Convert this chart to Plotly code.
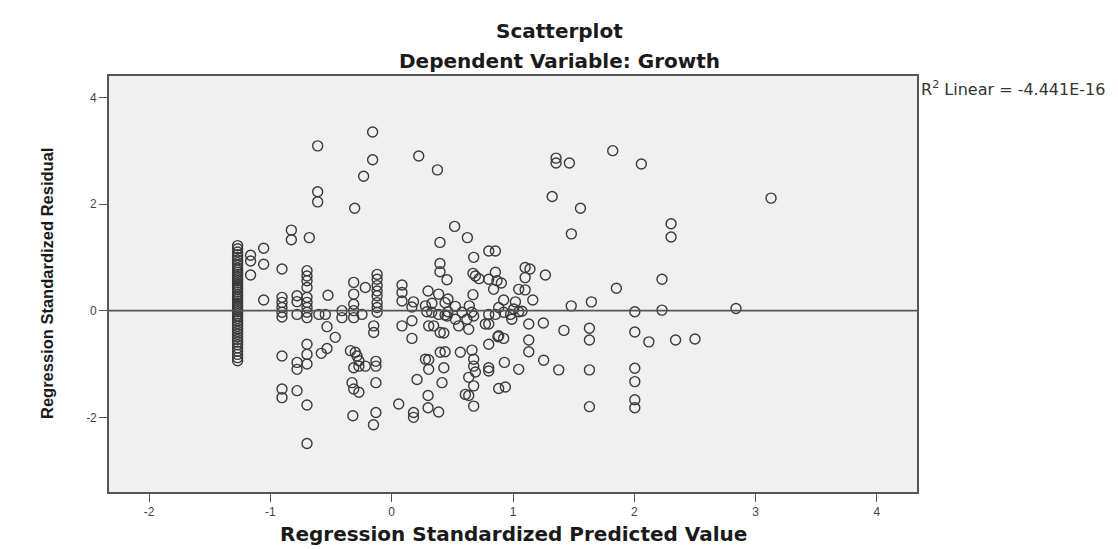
import plotly.graph_objects as go

# Standardized predicted values and residuals (regression on Growth)
col_pred = [-1.27] * 47
col_resid = [1.22, 1.16, 1.10, 1.05, 1.00, 0.95, 0.90, 0.85, 0.80, 0.76, 0.72, 0.68,
             0.64, 0.60, 0.56, 0.52, 0.48, 0.44, 0.40, 0.35, 0.30, 0.26, 0.22, 0.18,
             0.14, 0.10, 0.06, 0.02, -0.02, -0.06, -0.10, -0.14, -0.19, -0.24, -0.29,
             -0.34, -0.39, -0.44, -0.49, -0.54, -0.59, -0.64, -0.70, -0.76, -0.82,
             -0.88, -0.94]

upper_pts = [
    (-0.157, 3.35), (-0.61, 3.09), (-0.157, 2.83), (0.223, 2.90), (0.377, 2.64),
    (-0.231, 2.52), (-0.61, 2.23), (-0.61, 2.04), (-0.305, 1.92), (0.519, 1.58),
    (0.624, 1.37), (0.398, 1.28), (-0.827, 1.51), (-0.827, 1.33), (-0.679, 1.37),
    (-1.055, 1.17), (-1.055, 0.87), (-0.904, 0.78), (-1.163, 1.04), (-1.163, 0.93),
    (-1.163, 0.67), (0.676, 1.00), (0.80, 1.12), (0.855, 1.12), (0.398, 0.885),
    (0.398, 0.73), (1.355, 2.86), (1.355, 2.77), (1.465, 2.77), (1.822, 3.00),
    (2.058, 2.75), (1.323, 2.14), (1.556, 1.92), (1.481, 1.44), (3.127, 2.11),
    (2.303, 1.63), (2.303, 1.38), (1.10, 0.81), (1.14, 0.78), (1.10, 0.62),
    (1.267, 0.67), (2.228, 0.59),
]

middle_pts = [
    (0.456, 0.58), (0.67, 0.70), (0.69, 0.65), (0.72, 0.60), (0.80, 0.59),
    (0.855, 0.72), (0.868, 0.56), (0.904, 0.52), (0.84, 0.40), (1.047, 0.40),
    (1.10, 0.39), (1.163, 0.20), (0.923, 0.20), (1.02, 0.165), (1.006, 0.03),
    (1.074, -0.01), (0.882, 0.06), (0.67, 0.30), (0.64, 0.09), (0.66, -0.03),
    (0.676, -0.10), (0.464, 0.22), (0.525, 0.08), (0.464, -0.02), (0.456, -0.10),
    (0.387, 0.31), (0.30, 0.37), (0.332, 0.14), (0.278, 0.09), (0.085, 0.48),
    (0.085, 0.34), (0.085, 0.18), (0.18, 0.165), (0.167, 0.07), (0.33, -0.03),
    (0.387, -0.07), (0.44, -0.08), (0.44, 0.15), (1.48, 0.09), (1.646, 0.165),
    (1.852, 0.42), (2.004, -0.02), (2.228, 0.01), (2.838, 0.04),
    (-0.12, 0.68), (-0.12, 0.59), (-0.12, 0.47), (-0.12, 0.37), (-0.12, 0.28),
    (-0.12, 0.15), (-0.12, 0.06), (-0.12, -0.03), (-0.148, -0.285), (-0.148, -0.41),
    (0.29, -0.02), (0.525, -0.16), (0.62, -0.16), (0.855, -0.07), (0.923, -0.03),
    (0.98, -0.07), (1.047, -0.02), (0.58, -0.03), (0.80, -0.07),
]

lower_pts = [
    (0.085, -0.285), (0.167, -0.19), (0.305, -0.285), (0.346, -0.285), (0.40, -0.41),
    (0.552, -0.285), (0.635, -0.35), (0.772, -0.25), (0.80, -0.25), (0.882, -0.47),
    (0.99, -0.16), (1.13, -0.25), (1.25, -0.23), (1.42, -0.37), (1.63, -0.33),
    (2.004, -0.40), (0.167, -0.52), (0.43, -0.42), (0.80, -0.63), (0.876, -0.49),
    (0.923, -0.52), (1.13, -0.55), (1.13, -0.77), (1.63, -0.55), (1.63, -1.11),
    (1.63, -1.80), (2.004, -1.08), (2.004, -1.33), (2.004, -1.67), (2.004, -1.82),
    (2.12, -0.585), (2.34, -0.55), (2.50, -0.53), (0.278, -0.91), (0.305, -0.92),
    (0.40, -0.78), (0.44, -0.77), (0.305, -1.10), (0.43, -1.07), (0.566, -0.78),
    (0.662, -0.74), (0.676, -0.91), (0.676, -1.04), (0.69, -1.15), (0.635, -1.25),
    (0.676, -1.41), (0.607, -1.57), (0.635, -1.59), (0.676, -1.79), (0.80, -1.07),
    (0.80, -1.13), (0.929, -0.97), (1.047, -1.10), (1.253, -0.93), (1.377, -1.11),
    (0.882, -1.46), (0.937, -1.43), (0.209, -1.29), (0.415, -1.35), (0.30, -1.59),
    (0.058, -1.75), (0.30, -1.82), (0.387, -1.90), (0.18, -1.91), (0.18, -2.00),
    (-0.13, -0.95), (-0.13, -1.04), (-0.13, -1.35), (-0.13, -1.91), (-0.15, -2.14),
]

left_pts = [
    (-1.055, 0.20), (-0.904, 0.25), (-0.904, 0.155), (-0.904, 0.06), (-0.904, -0.03),
    (-0.904, -0.12), (-0.78, 0.28), (-0.78, 0.17), (-0.78, -0.07),
    (-0.698, 0.75), (-0.698, 0.65), (-0.698, 0.56), (-0.698, 0.435), (-0.698, 0.25),
    (-0.698, 0.155), (-0.698, 0.06), (-0.698, -0.03), (-0.698, -0.13),
    (-0.60, -0.07), (-0.547, -0.07), (-0.533, -0.30), (-0.465, -0.50), (-0.533, -0.71),
    (-0.58, -0.80), (-0.698, -0.63), (-0.698, -0.82), (-0.698, -1.00), (-0.78, -0.97),
    (-0.78, -1.10), (-0.904, -0.85), (-0.904, -1.47), (-0.904, -1.63), (-0.78, -1.50),
    (-0.698, -1.77), (-0.698, -2.49), (-0.41, 0.00), (-0.41, -0.13), (-0.313, 0.12),
    (-0.313, 0.00), (-0.313, -0.13), (-0.245, -0.07), (-0.34, -0.75), (-0.30, -0.78),
    (-0.286, -0.85), (-0.27, -0.94), (-0.313, -1.07), (-0.27, -1.04), (-0.217, -1.04),
    (-0.327, -1.35), (-0.313, -1.47), (-0.27, -1.53), (-0.32, -1.97), (-0.525, 0.29),
    (-0.313, 0.53), (-0.313, 0.31), (-0.217, 0.435),
]

x_ticks = [-2, -1, 0, 1, 2, 3, 4]
y_ticks = [-2, 0, 2, 4]
x_tick_text = ["-2", "-1", "0", "1", "2", "3", "4"]
y_tick_text = ["-2", "0", "2", "4"]
r2_label = "R<sup>2</sup> Linear = -4.441E-16"

all_pts = upper_pts + middle_pts + lower_pts + left_pts
pred = col_pred + [p[0] for p in all_pts]
resid = col_resid + [p[1] for p in all_pts]

fig = go.Figure()
fig.add_trace(go.Scatter(
    x=pred, y=resid, mode="markers",
    marker=dict(symbol="circle-open", size=10, color="#3a3a3a", line=dict(width=1.4)),
    showlegend=False, hoverinfo="x+y",
))

# Linear fit line (slope 0 at residual = 0)
fig.add_shape(type="line", xref="paper", x0=0, x1=1, yref="y", y0=0, y1=0,
              line=dict(color="#555555", width=1.6))

axis_style = dict(
    showgrid=False, zeroline=False, showline=True, mirror=True,
    linecolor="#555555", linewidth=1.6, ticks="outside", ticklen=8,
    tickcolor="#555555", tickwidth=1.3,
    tickfont=dict(family="Liberation Sans", size=12, color="#444444"),
)

fig.update_xaxes(range=[-2.33, 4.33], tickvals=x_ticks, ticktext=x_tick_text,
                 **axis_style)
fig.update_yaxes(range=[-3.4, 4.4], tickvals=y_ticks, ticktext=y_tick_text,
                 **axis_style)

title_font = dict(family="DejaVu Sans", size=20, color="#1a1a1a", weight="bold")
fig.add_annotation(text="Scatterplot", xref="paper", yref="paper",
                   x=(559 - 109) / 808, y=1 + (76 - 31) / 416, xanchor="center",
                   yanchor="middle", showarrow=False, font=title_font)
fig.add_annotation(text="Dependent Variable: Growth", xref="paper", yref="paper",
                   x=(559 - 109) / 808, y=1 + (76 - 61) / 416, xanchor="center",
                   yanchor="middle", showarrow=False, font=title_font)
fig.add_annotation(text="Regression Standardized Predicted Value", xref="paper",
                   yref="paper", x=0.5, y=-(534 - 492) / 416, xanchor="center",
                   yanchor="middle", showarrow=False, font=title_font)
fig.add_annotation(text="Regression Standardized Residual", xref="paper",
                   yref="paper", x=(47 - 109) / 808, y=0.5,
                   xanchor="center", yanchor="middle", textangle=-90,
                   showarrow=False,
                   font=dict(family="Liberation Sans", size=16.5,
                             color="#1a1a1a", weight="bold"))
fig.add_annotation(text=r2_label, xref="paper", yref="paper",
                   x=1.002, y=1 - (88 - 76) / 416, xanchor="left", yanchor="middle",
                   showarrow=False,
                   font=dict(family="DejaVu Sans", size=16, color="#333333"))

fig.update_layout(
    width=1118, height=549,
    margin=dict(l=109, r=201, t=76, b=57),
    plot_bgcolor="#f0f0f0", paper_bgcolor="white",
)

fig.write_html("out.html")
